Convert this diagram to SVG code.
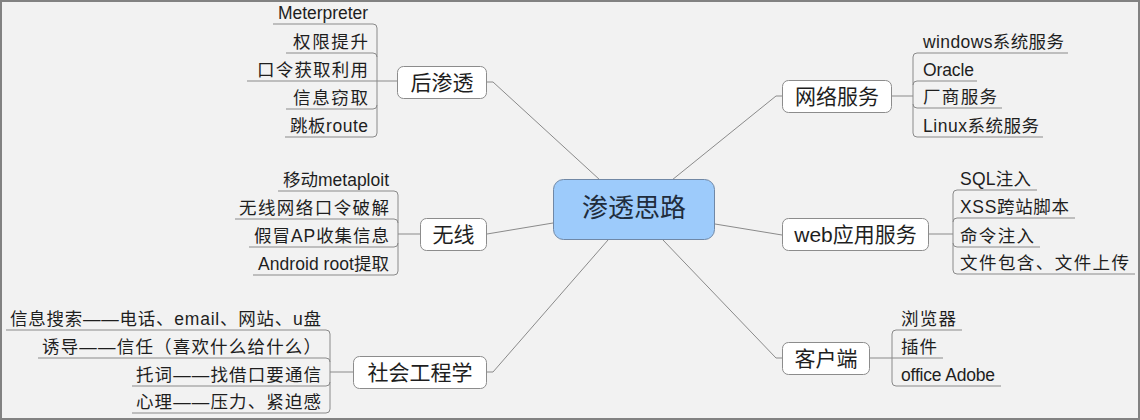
<svg xmlns="http://www.w3.org/2000/svg" width="1140" height="420" viewBox="0 0 1140 420">
<style>
text{font-family:"Liberation Sans","Noto Sans CJK SC",sans-serif;fill:#1e1e1e}
.sub{font-size:17.5px}
.nt{font-size:21px;text-anchor:middle}
.ct{font-size:26px;text-anchor:middle;fill:#1f2d3d}
.l{text-anchor:end}
.ln{fill:none;stroke:#8a8a8a;stroke-width:1}
.box{fill:#ffffff;stroke:#8c8c8c;stroke-width:1}
.cbox{fill:#9dcbfb;stroke:#7088a6;stroke-width:1}
</style>
<rect x="0" y="0" width="1140" height="420" fill="#f2f2f2"/>
<rect x="1" y="1" width="1138" height="418" fill="none" stroke="#828282" stroke-width="2"/>

<g id="connectors" class="ln">
  <path d="M487,82 H493 L600,180"/>
  <path d="M782,96 H776 L672,180"/>
  <path d="M487,234 L553,223"/>
  <path d="M715,224 L782,235"/>
  <path d="M487,372 H493 L608,240"/>
  <path d="M782,358 H776 L663,240"/>
  <!-- 后渗透 bracket -->
  <path d="M377,28 V133"/>
  <path d="M273,24 H373 Q377,24 377,28"/>
  <path d="M286,53 H373 Q377,53 377,57"/>
  <path d="M247,81 H397"/>
  <path d="M286,109 H373 Q377,109 377,105"/>
  <path d="M285,137 H373 Q377,137 377,133"/>
  <!-- 无线 bracket -->
  <path d="M398,195 V271"/>
  <path d="M278,191 H394 Q398,191 398,195"/>
  <path d="M235,219 H394 Q398,219 398,223"/>
  <path d="M249,247 H394 Q398,247 398,243"/>
  <path d="M253,275 H394 Q398,275 398,271"/>
  <path d="M398,234 H420"/>
  <!-- 社会工程学 bracket -->
  <path d="M330,334 V409"/>
  <path d="M6,330 H326 Q330,330 330,334"/>
  <path d="M38,358 H326 Q330,358 330,362"/>
  <path d="M132,386 H326 Q330,386 330,382"/>
  <path d="M132,413 H326 Q330,413 330,409"/>
  <path d="M330,372 H353"/>
  <!-- 网络服务 bracket -->
  <path d="M913,57 V133"/>
  <path d="M1068,53 H917 Q913,53 913,57"/>
  <path d="M977,81 H917 Q913,81 913,85"/>
  <path d="M1002,108 H917 Q913,108 913,104"/>
  <path d="M1043,137 H917 Q913,137 913,133"/>
  <path d="M913,96 H892"/>
  <!-- web应用服务 bracket -->
  <path d="M953,194 V270"/>
  <path d="M1037,190 H957 Q953,190 953,194"/>
  <path d="M1075,218 H957 Q953,218 953,222"/>
  <path d="M1040,247 H957 Q953,247 953,243"/>
  <path d="M1135,274 H957 Q953,274 953,270"/>
  <path d="M953,234 H929"/>
  <!-- 客户端 bracket -->
  <path d="M892,334 V382"/>
  <path d="M962,330 H896 Q892,330 892,334"/>
  <path d="M943,358 H870"/>
  <path d="M1001,386 H896 Q892,386 892,382"/>
</g>

<g id="center">
  <rect class="cbox" x="553.5" y="179.5" width="161" height="60" rx="10"/>
  <text class="ct" x="634" y="217">渗透思路</text>
</g>

<g id="houshentou">
  <rect class="box" x="397.5" y="66.5" width="89" height="32" rx="6"/>
  <text class="nt" x="442" y="90">后渗透</text>
</g>
<g id="houshentou-items">
  <text class="sub l" x="368" y="19" textLength="90" lengthAdjust="spacing">Meterpreter</text>
  <text class="sub l" x="368" y="48" textLength="75" lengthAdjust="spacing">权限提升</text>
  <text class="sub l" x="368" y="76" textLength="111" lengthAdjust="spacing">口令获取利用</text>
  <text class="sub l" x="368" y="104" textLength="75" lengthAdjust="spacing">信息窃取</text>
  <text class="sub l" x="368" y="132" textLength="78" lengthAdjust="spacing">跳板route</text>
</g>

<g id="wuxian">
  <rect class="box" x="420.5" y="218.5" width="66" height="32" rx="6"/>
  <text class="nt" x="453.5" y="242">无线</text>
</g>
<g id="wuxian-items">
  <text class="sub l" x="389" y="186" textLength="106" lengthAdjust="spacing">移动metaploit</text>
  <text class="sub l" x="389" y="214" textLength="150" lengthAdjust="spacing">无线网络口令破解</text>
  <text class="sub l" x="389" y="242" textLength="135" lengthAdjust="spacing">假冒AP收集信息</text>
  <text class="sub l" x="389" y="270" textLength="131" lengthAdjust="spacing">Android root提取</text>
</g>

<g id="shehui">
  <rect class="box" x="353.5" y="356.5" width="133" height="32" rx="6"/>
  <text class="nt" x="420" y="380">社会工程学</text>
</g>
<g id="shehui-items">
  <text class="sub l" x="321" y="325" textLength="311" lengthAdjust="spacing">信息搜索——电话、email、网站、u盘</text>
  <text class="sub l" x="321" y="353" textLength="279" lengthAdjust="spacing">诱导——信任（喜欢什么给什么）</text>
  <text class="sub l" x="321" y="381" textLength="185" lengthAdjust="spacing">托词——找借口要通信</text>
  <text class="sub l" x="321" y="408" textLength="185" lengthAdjust="spacing">心理——压力、紧迫感</text>
</g>

<g id="wangluo">
  <rect class="box" x="782.5" y="80.5" width="109" height="32" rx="6"/>
  <text class="nt" x="837" y="104">网络服务</text>
</g>
<g id="wangluo-items">
  <text class="sub" x="923" y="48" textLength="141" lengthAdjust="spacing">windows系统服务</text>
  <text class="sub" x="923" y="76" textLength="51" lengthAdjust="spacing">Oracle</text>
  <text class="sub" x="923" y="103" textLength="74" lengthAdjust="spacing">厂商服务</text>
  <text class="sub" x="923" y="132" textLength="116" lengthAdjust="spacing">Linux系统服务</text>
</g>

<g id="web">
  <rect class="box" x="782.5" y="218.5" width="146" height="32" rx="6"/>
  <text class="nt" x="855.5" y="242">web应用服务</text>
</g>
<g id="web-items">
  <text class="sub" x="960" y="185" textLength="71" lengthAdjust="spacing">SQL注入</text>
  <text class="sub" x="960" y="213" textLength="109" lengthAdjust="spacing">XSS跨站脚本</text>
  <text class="sub" x="960" y="242" textLength="74" lengthAdjust="spacing">命令注入</text>
  <text class="sub" x="960" y="269" textLength="169" lengthAdjust="spacing">文件包含、文件上传</text>
</g>

<g id="kehuduan">
  <rect class="box" x="782.5" y="342.5" width="87" height="32" rx="6"/>
  <text class="nt" x="826" y="366">客户端</text>
</g>
<g id="kehuduan-items">
  <text class="sub" x="901" y="325" textLength="55" lengthAdjust="spacing">浏览器</text>
  <text class="sub" x="901" y="353" textLength="36" lengthAdjust="spacing">插件</text>
  <text class="sub" x="901" y="381" textLength="94" lengthAdjust="spacing">office Adobe</text>
</g>
</svg>
